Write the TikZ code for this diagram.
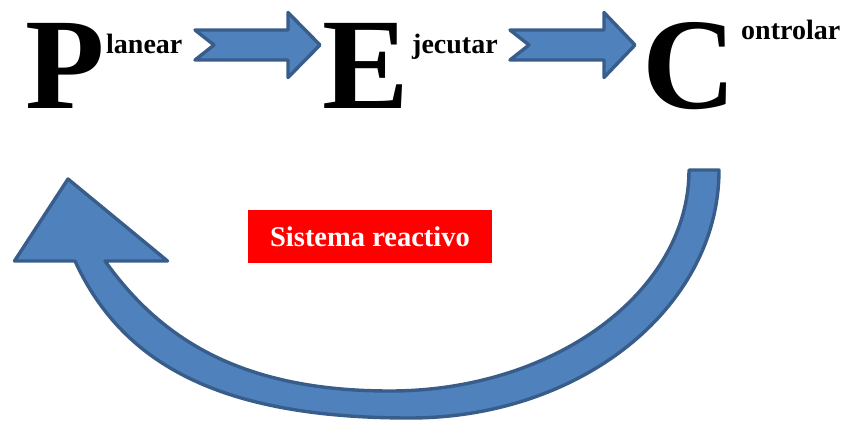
\documentclass[tikz,border=0pt]{standalone}
\usepackage{fontspec}
\setmainfont{Liberation Serif}
\definecolor{arrowfill}{HTML}{4F81BD}
\definecolor{arrowline}{HTML}{385D8A}
\tikzset{blockarrow/.style={fill=arrowfill, draw=arrowline, line width=3.4pt, line join=round}}

\begin{document}
\begin{tikzpicture}[x=1pt,y=-1pt]
	\useasboundingbox (0,0) rectangle (847,423);

	\begin{scope}[every node/.style={anchor=base west, inner sep=0pt, font=\fontsize{130}{130}\selectfont\bfseries}]
		\node (P) at (25,108) {P};
		\node (E) at (322,108) {E};
		\node (C) at (642,108) {C};
	\end{scope}

	\begin{scope}[every node/.style={anchor=base west, inner sep=0pt, font=\fontsize{28}{28}\selectfont\bfseries}]
		\node (pl) at (106,53) {lanear};
		\node (ej) at (412,53) {jecutar};
		\node (co) at (741,39) {ontrolar};
	\end{scope}

	% flechas entre las letras
	\draw[blockarrow] (195,30) -- (288,30) -- (288,12.5) -- (320,45) -- (288,77.5) -- (288,60) -- (195,60) -- (214,45) -- cycle;
	\draw[blockarrow] (510,30) -- (604,30) -- (604,12.5) -- (635,45) -- (604,77.5) -- (604,60) -- (510,60) -- (529,45) -- cycle;

	% flecha curva de vuelta
	\draw[blockarrow] (719,170) .. controls (719,307) and (581,418) .. (410,418)
		.. controls (230,418) and (125,370) .. (75,261)
		-- (14.5,261) -- (68,179) -- (167.5,261) -- (105,261)
		.. controls (160,338) and (240,391) .. (390,391)
		.. controls (554,391) and (689,292) .. (689,170) -- cycle;

	\node[fill=red, text=white, inner sep=0pt, minimum width=244pt, minimum height=53pt,
	      font=\fontsize{28.5}{28.5}\selectfont\bfseries] (sr) at (370,236.5) {Sistema reactivo};
\end{tikzpicture}
\end{document}
